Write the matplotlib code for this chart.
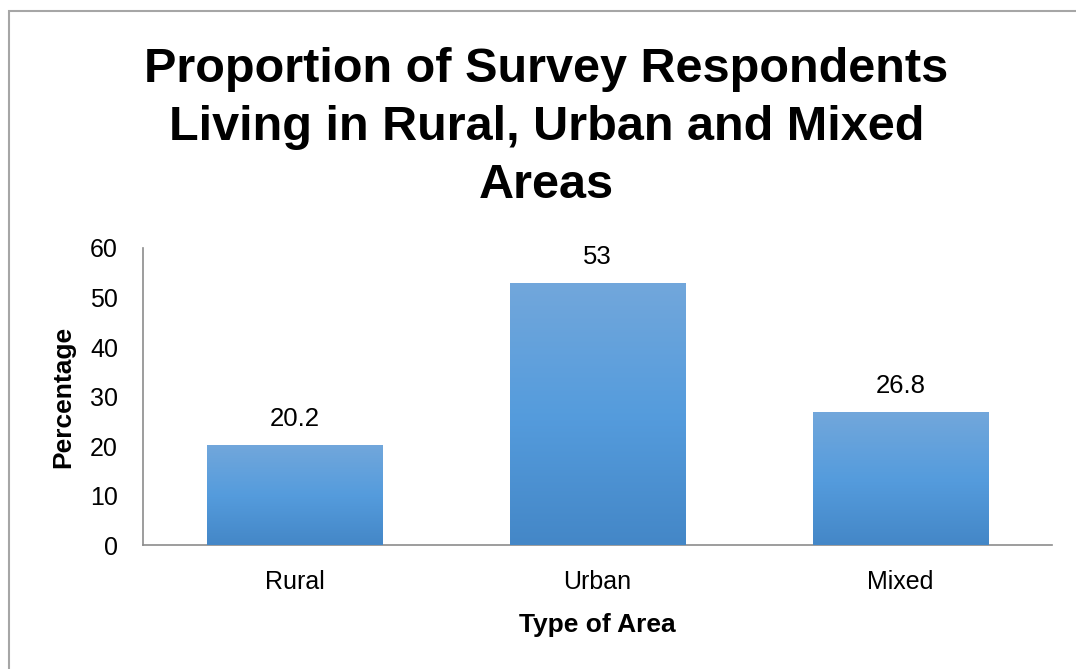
import numpy as np
import matplotlib.pyplot as plt
from matplotlib.colors import LinearSegmentedColormap
from matplotlib.patches import Rectangle

plt.rcParams['font.family'] = ['Liberation Sans', 'DejaVu Sans']

# Data
areas = ["Rural", "Urban", "Mixed"]
percentages = [20.2, 53, 26.8]
value_labels = ["20.2", "53", "26.8"]

fig = plt.figure(figsize=(10.76, 6.69), dpi=100)
ax = fig.add_axes([0.1329, 0.1853, 0.8448, 0.444])

# outer chart border
fig.patches.append(Rectangle((9 / 1076, -0.05), 1.2, (669 - 11) / 669 + 0.05,
                             transform=fig.transFigure, fill=False,
                             edgecolor="#a6a6a6", linewidth=1.5))

x = np.arange(len(areas))
bars = ax.bar(x, percentages, width=0.58, color="#559bdc", zorder=2)

# vertical gradient on each bar
grad_cmap = LinearSegmentedColormap.from_list("g", ["#4487c7", "#559cdd", "#72a7db"])
grad = np.linspace(0, 1, 256).reshape(-1, 1)
for b in bars:
    x0, y0 = b.get_x(), b.get_y()
    im = ax.imshow(grad, cmap=grad_cmap, origin="lower", aspect="auto",
                   extent=[x0, x0 + b.get_width(), y0, y0 + b.get_height()], zorder=3)
    im.set_clip_path(b)

for xi, v, lab in zip(x, percentages, value_labels):
    ax.annotate(lab, (xi, v), xytext=(0, 10), textcoords="offset points",
                ha="center", va="bottom", fontsize=18.5)

ax.set_xlim(-0.5, 2.5)
ax.set_ylim(0, 60)
ax.set_yticks(range(0, 61, 10))
ax.set_xticks(x)
ax.set_xticklabels(areas)
ax.tick_params(axis="both", length=0, labelsize=18)
ax.tick_params(axis="y", pad=18)
ax.tick_params(axis="x", pad=18)

for s in ["top", "right"]:
    ax.spines[s].set_visible(False)
for s in ["left", "bottom"]:
    ax.spines[s].set_color("#8c8c8c")
    ax.spines[s].set_linewidth(1.2)

ax.set_ylabel("Percentage", fontsize=19, fontweight="bold")
ax.yaxis.set_label_coords(-0.074, 0.5)
ax.set_xlabel("Type of Area", fontsize=19, fontweight="bold", labelpad=14)

fig.text(0.508, 0.93, "Proportion of Survey Respondents\nLiving in Rural, Urban and Mixed\nAreas",
         ha="center", va="top", fontsize=35, fontweight="bold", linespacing=1.38)

fig.savefig("out.png", dpi=100)
